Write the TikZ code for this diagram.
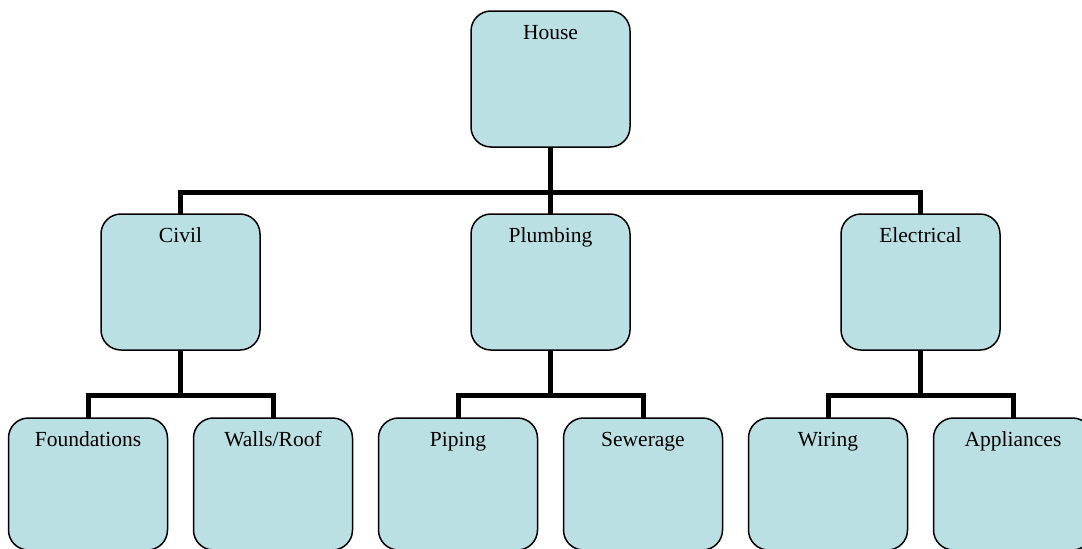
\documentclass[tikz,border=0pt]{standalone}
\usepackage{fontspec}
\setmainfont{Liberation Serif}
\definecolor{boxfill}{HTML}{BBE0E3}
\tikzset{
  orgbox/.style={draw=black, line width=1.5pt, fill=boxfill, rounded corners=20pt,
    minimum width=159pt, minimum height=136pt, inner sep=0pt, outer sep=0pt},
  leafbox/.style={orgbox, minimum height=132pt},
  boxtext/.style={font=\fontsize{21.5}{25}\selectfont, anchor=base, inner sep=0pt},
  conn/.style={draw=black, line width=5pt}
}
\begin{document}
\begin{tikzpicture}[x=1pt,y=-1pt]
\useasboundingbox (0,0) rectangle (1082,549);
\clip (0,0) rectangle (1082,549);
% boxes
\node[orgbox] (house) at (550.5,79) {};
\node[orgbox] (civil) at (180.5,282) {};
\node[orgbox] (plumb) at (550.5,282) {};
\node[orgbox] (elec) at (920.5,282) {};
\node[leafbox] (found) at (88,484) {};
\node[leafbox] (walls) at (273,484) {};
\node[leafbox] (piping) at (458,484) {};
\node[leafbox] (sewer) at (643,484) {};
\node[leafbox] (wiring) at (828,484) {};
\node[leafbox] (appl) at (1013,484) {};
% texts
\node[boxtext] (thouse) at ([yshift=-28pt]house.north) {House};
\node[boxtext] (tcivil) at ([yshift=-28pt]civil.north) {Civil};
\node[boxtext] (tplumb) at ([yshift=-28pt]plumb.north) {Plumbing};
\node[boxtext] (telec) at ([yshift=-28pt]elec.north) {Electrical};
\node[boxtext] (tfound) at ([yshift=-28pt]found.north) {Foundations};
\node[boxtext] (twalls) at ([yshift=-28pt]walls.north) {Walls/Roof};
\node[boxtext] (tpiping) at ([yshift=-28pt]piping.north) {Piping};
\node[boxtext] (tsewer) at ([yshift=-28pt]sewer.north) {Sewerage};
\node[boxtext] (twiring) at ([yshift=-28pt]wiring.north) {Wiring};
\node[boxtext] (tappl) at ([yshift=-28pt]appl.north) {Appliances};
% bus coordinates
\coordinate (bus0) at (house.south |- 0,192);
\coordinate (bus1) at (civil.south |- 0,395);
\coordinate (bus2) at (plumb.south |- 0,395);
\coordinate (bus3) at (elec.south |- 0,395);
% connectors
\draw[conn] (house.south) -- (bus0);
\draw[conn] (civil.north) |- (bus0) -| (elec.north);
\draw[conn] (bus0) -- (plumb.north);
\draw[conn] (civil.south) -- (bus1);
\draw[conn] (found.north) |- (bus1) -| (walls.north);
\draw[conn] (plumb.south) -- (bus2);
\draw[conn] (piping.north) |- (bus2) -| (sewer.north);
\draw[conn] (elec.south) -- (bus3);
\draw[conn] (wiring.north) |- (bus3) -| (appl.north);
\end{tikzpicture}
\end{document}
